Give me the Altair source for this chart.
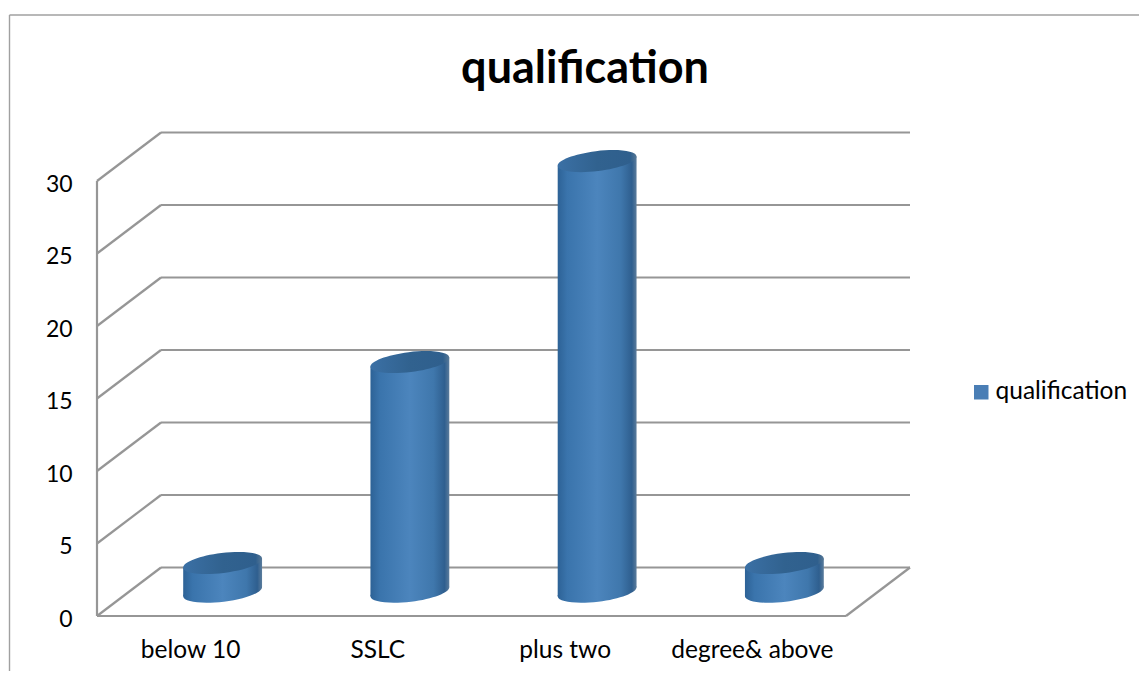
import math
import altair as alt
import pandas as pd

categories = ["below 10", "SSLC", "plus two", "degree& above"]
values = [2, 16, 30, 2]
tick_values = [0, 5, 10, 15, 20, 25, 30]
series_name = "qualification"

# Canvas and projection settings (the 3D look is a fixed oblique offset)
W, H = 1131, 663
PX_X = 187.25      # pixels per category
PX_Y = 14.5        # pixels per value unit
X0, Y0 = 97 - 8, 616 - 8  # origin in view pixels
DX, DY = 64 / PX_X, 48.5 / PX_Y
x_scale = alt.Scale(domain=[-X0 / PX_X, (W - X0) / PX_X], range=[0, W], nice=False, zero=False)
y_scale = alt.Scale(domain=[(Y0 - H) / PX_Y, Y0 / PX_Y], range=[H, 0], nice=False, zero=False)

A_PX, B_PX, TILT = 39.7, 10.0, math.radians(7)
HALF_W = math.sqrt((A_PX * math.cos(TILT)) ** 2 + (B_PX * math.sin(TILT)) ** 2)
TAN_Y = (A_PX ** 2 - B_PX ** 2) * math.sin(TILT) * math.cos(TILT) / HALF_W / PX_Y
HEIGHT_K = 0.99


def ellipse_path():
    k = 0.5523
    b = B_PX / A_PX

    def rot(x, y):
        return (x * math.cos(TILT) + y * math.sin(TILT), -x * math.sin(TILT) + y * math.cos(TILT))

    p = [(1, 0), (1, k * b), (k, b), (0, b), (-k, b), (-1, k * b), (-1, 0),
         (-1, -k * b), (-k, -b), (0, -b), (k, -b), (1, -k * b), (1, 0)]
    p = [rot(*q) for q in p]
    s = "M%.4f,%.4f" % p[0]
    for i in range(1, len(p), 3):
        s += "C%.4f,%.4f %.4f,%.4f %.4f,%.4f" % (p[i] + p[i + 1] + p[i + 2])
    return s + "Z"


SHAPE = ellipse_path()
SIZE = (2 * A_PX) ** 2

body_grad = alt.Gradient(
    gradient="linear", x1=0, x2=1, y1=0, y2=0,
    stops=[
        alt.GradientStop(offset=0, color="#2d6296"),
        alt.GradientStop(offset=0.12, color="#3a74ac"),
        alt.GradientStop(offset=0.5, color="#4c85bd"),
        alt.GradientStop(offset=0.8, color="#3f77ac"),
        alt.GradientStop(offset=0.94, color="#2f5f8f"),
        alt.GradientStop(offset=1, color="#5b7c9c"),
    ],
)
top_grad = alt.Gradient(
    gradient="linear", x1=0, x2=1, y1=0, y2=0,
    stops=[
        alt.GradientStop(offset=0, color="#3b70a5"),
        alt.GradientStop(offset=0.5, color="#31628f"),
        alt.GradientStop(offset=0.92, color="#2f5f8d"),
        alt.GradientStop(offset=1, color="#577896"),
    ],
)

# wall + floor lines
lines = []
for v in tick_values:
    lines.append(dict(x=DX, x2=4 + DX, y=v + DY, y2=v + DY))
    lines.append(dict(x=0, x2=DX, y=v, y2=v + DY))
lines.append(dict(x=0, x2=0, y=0, y2=30))
lines.append(dict(x=0, x2=4, y=0, y2=0))
lines.append(dict(x=4, x2=4 + DX, y=0, y2=DY))

X = alt.X("x:Q", scale=x_scale, axis=None)
Y = alt.Y("y:Q", scale=y_scale, axis=None)

line_layer = alt.Chart(pd.DataFrame(lines)).mark_rule(color="#969696", strokeWidth=2.2).encode(
    x=X, x2="x2:Q", y=Y, y2="y2:Q"
)

# cylinders
centers, bodies = [], []
for i, (c, v) in enumerate(zip(categories, values)):
    cx = i + 0.5 + DX / 2
    bot = DY / 2
    top = bot + v * HEIGHT_K
    centers.append(dict(cat=c, x=cx, bot=bot, top=top))
    hw = HALF_W / PX_X
    bodies.append(dict(cat=c, x=cx - hw, y=bot - TAN_Y, y2=top - TAN_Y))
    bodies.append(dict(cat=c, x=cx + hw, y=bot + TAN_Y, y2=top + TAN_Y))
centers = pd.DataFrame(centers)
bodies = pd.DataFrame(bodies)

bottom_layer = alt.Chart(centers).mark_point(
    filled=True, shape=SHAPE, size=SIZE, opacity=1, fill=body_grad, stroke=None
).encode(x=X, y=alt.Y("bot:Q", scale=y_scale, axis=None))

body_layer = alt.Chart(bodies).mark_area(color=body_grad, opacity=1, line=False).encode(
    x=X, y=Y, y2="y2:Q", detail="cat:N"
)

top_layer = alt.Chart(centers).mark_point(
    filled=True, shape=SHAPE, size=SIZE, opacity=1, fill=top_grad, stroke=None
).encode(x=X, y=alt.Y("top:Q", scale=y_scale, axis=None))

# labels
FONT = "Lato"
ytick_df = pd.DataFrame({"v": tick_values, "x": [-0.13] * len(tick_values)})
ytick_layer = alt.Chart(ytick_df).mark_text(
    font=FONT, fontSize=23, align="right", baseline="middle", color="#000000", dy=3.5
).encode(x=X, y=alt.Y("v:Q", scale=y_scale, axis=None), text="v:N")

xcat_df = pd.DataFrame({"c": categories, "x": [i + 0.5 for i in range(4)], "y": [-2.35] * 4})
xcat_layer = alt.Chart(xcat_df).mark_text(
    font=FONT, fontSize=24.5, align="center", baseline="middle", color="#000000", dy=1
).encode(x=X, y=Y, text="c:N")

title_layer = alt.Chart(pd.DataFrame({"t": [series_name]})).mark_text(
    font=FONT, fontSize=45, fontWeight="bold", align="center", baseline="middle", color="#000000"
).encode(x=alt.value(577), y=alt.value(61), text="t:N")

legend_layer = alt.Chart(pd.DataFrame({"s": [series_name]})).mark_square(size=0, opacity=0).encode(
    x=alt.value(0), y=alt.value(0),
    color=alt.Color(
        "s:N",
        scale=alt.Scale(range=["#4a7eb5"]),
        legend=alt.Legend(
            orient="none", legendX=961, legendY=372, title=None, symbolType="square",
            symbolSize=210, symbolOpacity=1, labelFont=FONT, labelFontSize=24.5, labelColor="#000000",
            symbolStrokeWidth=0, labelOffset=2,
        ),
    ),
)

frame_left = alt.Chart(pd.DataFrame({"a": [0]})).mark_rule(color="#a0a0a0", strokeWidth=1.4).encode(
    x=alt.value(1.5), y=alt.value(7), y2=alt.value(H)
)
frame_top = alt.Chart(pd.DataFrame({"a": [0]})).mark_rule(color="#a0a0a0", strokeWidth=1.4).encode(
    y=alt.value(7), x=alt.value(1.5), x2=alt.value(W)
)

chart = alt.layer(
    frame_left, frame_top, line_layer, bottom_layer, body_layer, top_layer,
    ytick_layer, xcat_layer, title_layer, legend_layer,
).properties(
    width=W, height=H, padding=0, autosize=alt.AutoSizeParams(type="none"),
    background="#ffffff",
).configure_view(stroke=None)

chart.save("out.html", embed_options={"renderer": "svg", "actions": False})
